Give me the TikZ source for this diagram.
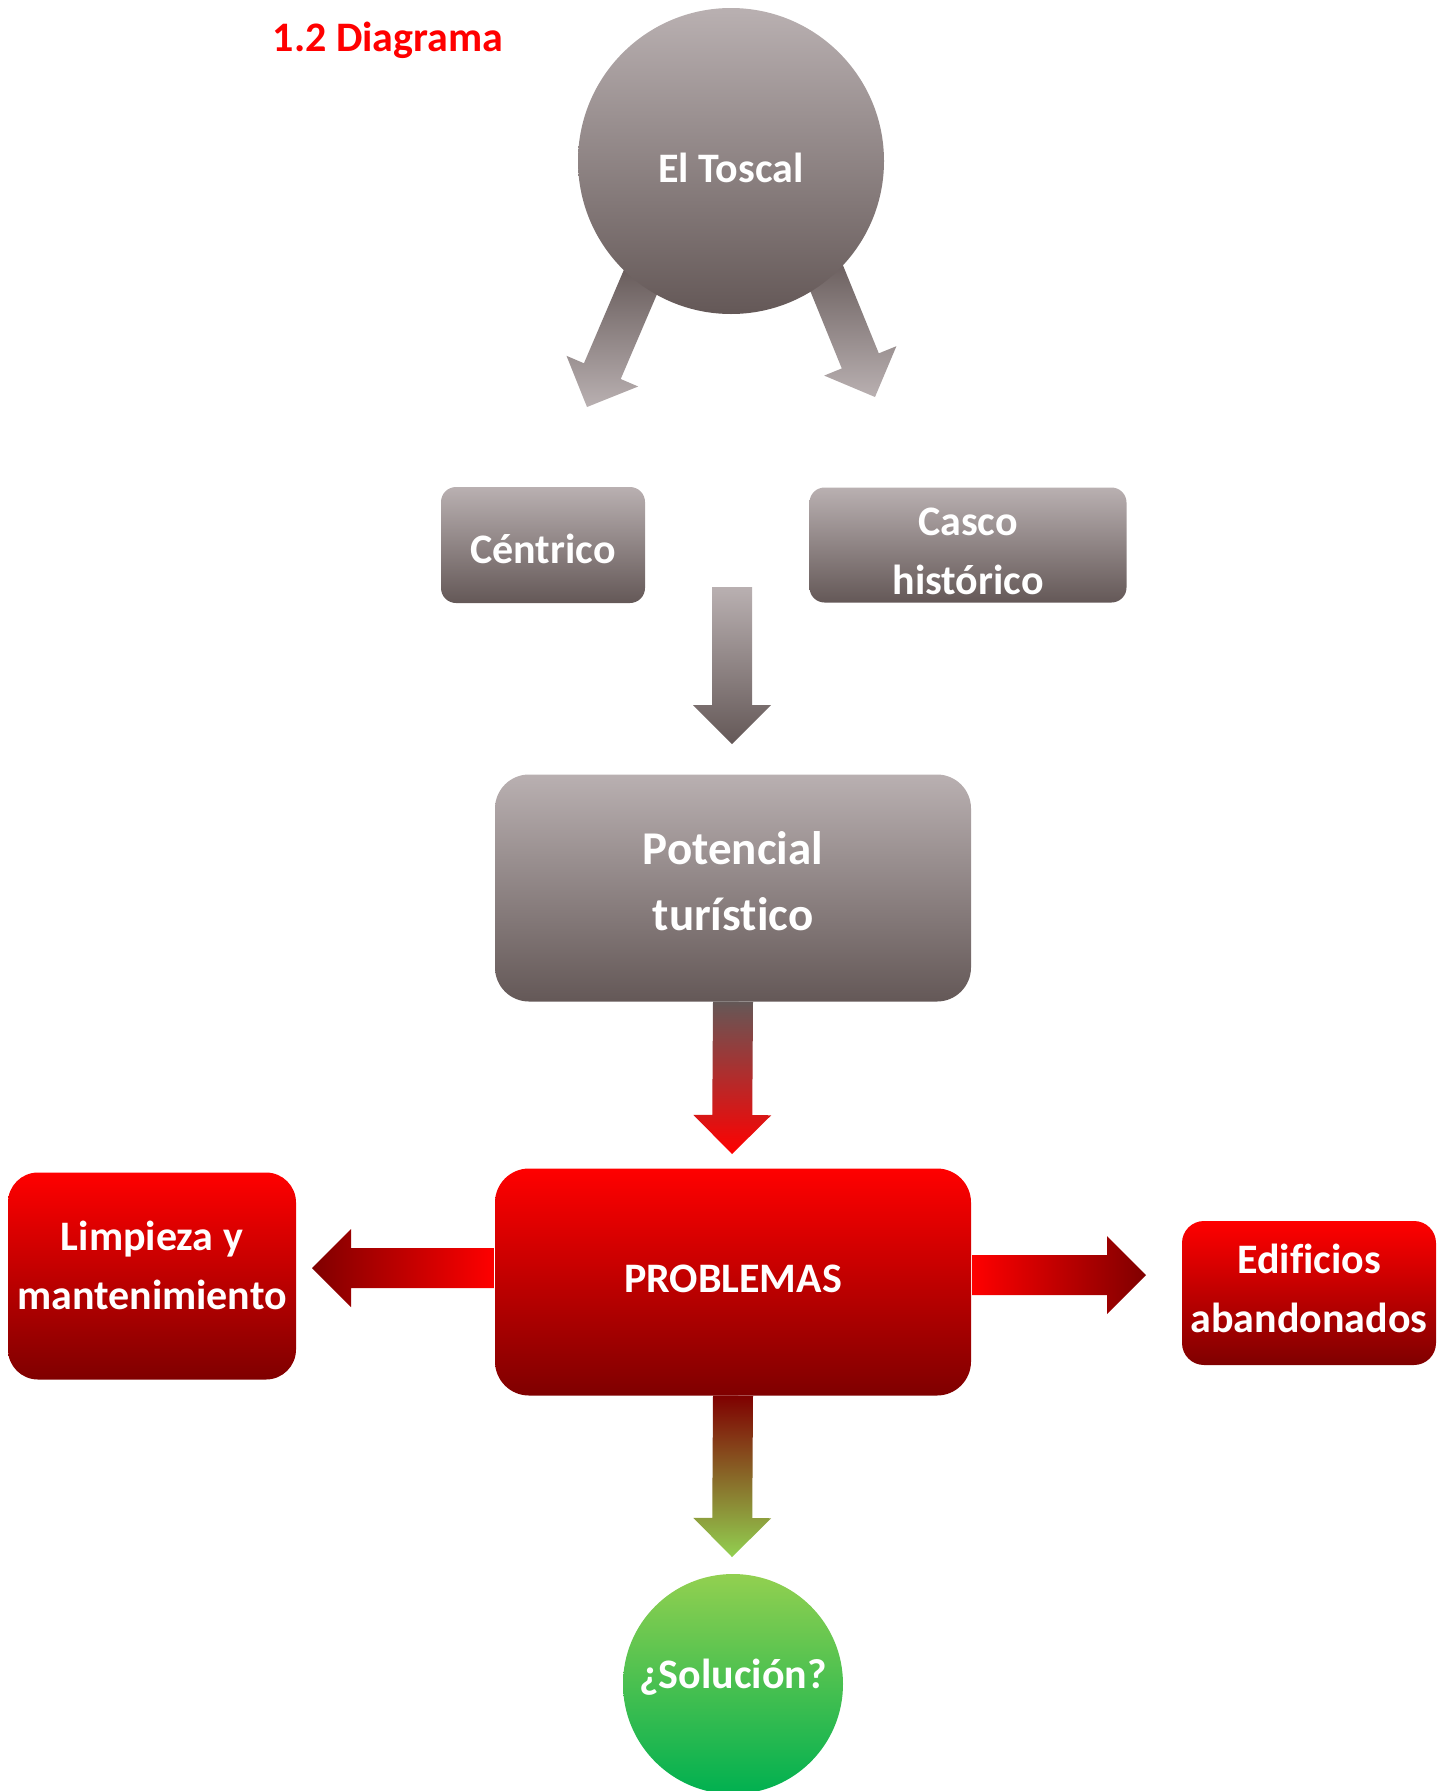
\documentclass[tikz,border=0pt]{standalone}
\usepackage{fontspec}
\setmainfont{Carlito}[Ligatures={TeX,NoCommon}]
\usetikzlibrary{calc,backgrounds}

\definecolor{grayhi}{HTML}{B9B0B1}
\definecolor{graylo}{HTML}{645857}
\definecolor{redhi}{HTML}{FF0000}
\definecolor{redlo}{HTML}{7F0000}
\definecolor{greenhi}{HTML}{92D050}
\definecolor{greenlo}{HTML}{00B050}

% block arrow from #1 to #2, shading #3
\newcommand{\blockarrow}[3]{%
	\coordinate (hb) at ($(#2)!39pt!(#1)$);
	\shade[#3] ($(#1)!20pt!90:(#2)$) -- ($(hb)!20pt!90:(#2)$) -- ($(hb)!39pt!90:(#2)$) -- (#2)
		-- ($(hb)!39pt!-90:(#2)$) -- ($(hb)!20pt!-90:(#2)$) -- ($(#1)!20pt!-90:(#2)$) -- cycle;}

\begin{document}
\begin{tikzpicture}[x=1pt, y=-1pt,
			every node/.style = {text=white, align=center, inner sep=2pt,
				font=\bfseries\fontsize{42}{59}\selectfont},
			graybox/.style = {rounded corners=15pt, top color=grayhi, bottom color=graylo},
			redbox/.style = {rounded corners=34pt, top color=redhi, bottom color=redlo},
			ball/.style = {circle, inner sep=0pt}]
			
			\useasboundingbox (0,0) rectangle (1451,1791);
			
			\node[text=redhi] (title) at (388,40) {1.2 Diagrama};
			
			\node[ball, minimum size=306pt, top color=grayhi, bottom color=graylo,
				text height=43pt, text depth=0pt] (toscal) at (731,161) {El Toscal};
			\node[graybox, minimum width=204pt, minimum height=116pt,
				text height=37pt, text depth=0pt] (cent) at (543,545) {Céntrico};
			\node[graybox, minimum width=317pt, minimum height=115pt,
				text height=100pt] (casco) at (968,545) {Casco\\histórico};
			\node[graybox, rounded corners=34pt, minimum width=476pt, minimum height=227pt,
				font=\bfseries\fontsize{47}{66}\selectfont, text depth=14pt] (pot) at (733,888) {Potencial\\turístico};
			\node[redbox, minimum width=476pt, minimum height=227pt,
				text depth=6pt] (prob) at (733,1282) {PROBLEMAS};
			\node[redbox, rounded corners=30pt, minimum width=288pt, minimum height=207pt,
				text depth=22pt] (limp) at (152,1276) {Limpieza y\\mantenimiento};
			\node[redbox, rounded corners=22pt, minimum width=254pt, minimum height=144pt,
				text depth=10pt] (edif) at (1309,1293) {Edificios\\abandonados};
			\node[ball, minimum size=220pt, top color=greenhi, bottom color=greenlo,
				text height=31pt, text depth=22pt] (sol) at (733,1684) {¿Solución?};
			
			% arrow ends
			\coordinate (l0) at ($(toscal.center)+(-85,108)$);
			\coordinate (l1) at (587,407);
			\coordinate (r0) at ($(toscal.center)+(87,96)$);
			\coordinate (r1) at (875,397);
			\coordinate (g0) at (732,587);
			\coordinate (g1) at (732,744);
			\coordinate (p1) at (732,1154);
			\coordinate (w0) at (494,1268);
			\coordinate (w1) at (312,1268);
			\coordinate (e0) at (972,1275);
			\coordinate (e1) at (1146,1275);
			\coordinate (s1) at (732,1557);
			
			\begin{scope}[on background layer]
				\blockarrow{l0}{l1}{top color=graylo, bottom color=grayhi}
				\blockarrow{r0}{r1}{top color=graylo, bottom color=grayhi}
			\end{scope}
			\blockarrow{g0}{g1}{top color=grayhi, bottom color=graylo}
			\blockarrow{pot.south}{p1}{top color=graylo, bottom color=redhi}
			\blockarrow{w0}{w1}{right color=redhi, left color=redlo}
			\blockarrow{e0}{e1}{left color=redhi, right color=redlo}
			\blockarrow{prob.south}{s1}{top color=redlo, bottom color=greenhi}
			\end{tikzpicture}
\end{document}
